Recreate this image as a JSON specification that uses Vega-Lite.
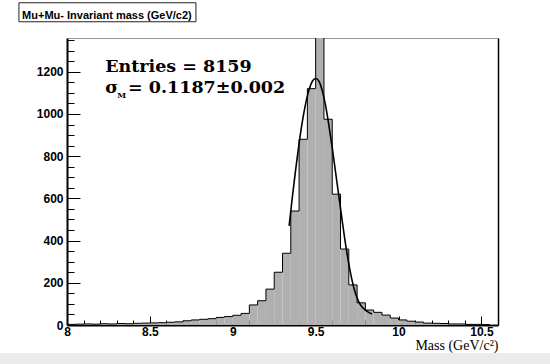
{
  "$schema": "https://vega.github.io/schema/vega-lite/v6.json",
  "width": 431,
  "height": 287,
  "autosize": "none",
  "padding": {"left": 67, "top": 38, "right": 52, "bottom": 39},
  "background": "white",
  "config": {
    "view": {"stroke": null},
    "axis": {
      "grid": false,
      "labelFont": "Liberation Sans",
      "labelFontWeight": "bold",
      "labelFontSize": 12,
      "labelColor": "black",
      "tickColor": "black",
      "domainColor": "black"
    }
  },
  "datasets": {
    "hist": [
      {"lo": 8.00, "hi": 8.05, "n": 3},
      {"lo": 8.05, "hi": 8.10, "n": 4},
      {"lo": 8.10, "hi": 8.15, "n": 5},
      {"lo": 8.15, "hi": 8.20, "n": 4},
      {"lo": 8.20, "hi": 8.25, "n": 6},
      {"lo": 8.25, "hi": 8.30, "n": 5},
      {"lo": 8.30, "hi": 8.35, "n": 7},
      {"lo": 8.35, "hi": 8.40, "n": 6},
      {"lo": 8.40, "hi": 8.45, "n": 8},
      {"lo": 8.45, "hi": 8.50, "n": 9},
      {"lo": 8.50, "hi": 8.55, "n": 10},
      {"lo": 8.55, "hi": 8.60, "n": 11},
      {"lo": 8.60, "hi": 8.65, "n": 13},
      {"lo": 8.65, "hi": 8.70, "n": 15},
      {"lo": 8.70, "hi": 8.75, "n": 20},
      {"lo": 8.75, "hi": 8.80, "n": 24},
      {"lo": 8.80, "hi": 8.85, "n": 27},
      {"lo": 8.85, "hi": 8.90, "n": 30},
      {"lo": 8.90, "hi": 8.95, "n": 36},
      {"lo": 8.95, "hi": 9.00, "n": 40},
      {"lo": 9.00, "hi": 9.05, "n": 46},
      {"lo": 9.05, "hi": 9.10, "n": 55},
      {"lo": 9.10, "hi": 9.15, "n": 95},
      {"lo": 9.15, "hi": 9.20, "n": 115},
      {"lo": 9.20, "hi": 9.25, "n": 170},
      {"lo": 9.25, "hi": 9.30, "n": 250},
      {"lo": 9.30, "hi": 9.35, "n": 340},
      {"lo": 9.35, "hi": 9.40, "n": 540},
      {"lo": 9.40, "hi": 9.45, "n": 880},
      {"lo": 9.45, "hi": 9.50, "n": 1120},
      {"lo": 9.50, "hi": 9.55, "n": 1400},
      {"lo": 9.55, "hi": 9.60, "n": 975},
      {"lo": 9.60, "hi": 9.65, "n": 620},
      {"lo": 9.65, "hi": 9.70, "n": 360},
      {"lo": 9.70, "hi": 9.75, "n": 190},
      {"lo": 9.75, "hi": 9.80, "n": 105},
      {"lo": 9.80, "hi": 9.85, "n": 71},
      {"lo": 9.85, "hi": 9.90, "n": 60},
      {"lo": 9.90, "hi": 9.95, "n": 47},
      {"lo": 9.95, "hi": 10.00, "n": 33},
      {"lo": 10.00, "hi": 10.05, "n": 24},
      {"lo": 10.05, "hi": 10.10, "n": 18},
      {"lo": 10.10, "hi": 10.15, "n": 14},
      {"lo": 10.15, "hi": 10.20, "n": 9},
      {"lo": 10.20, "hi": 10.25, "n": 8},
      {"lo": 10.25, "hi": 10.30, "n": 7},
      {"lo": 10.30, "hi": 10.35, "n": 5},
      {"lo": 10.35, "hi": 10.40, "n": 5},
      {"lo": 10.40, "hi": 10.45, "n": 3},
      {"lo": 10.45, "hi": 10.50, "n": 3},
      {"lo": 10.50, "hi": 10.55, "n": 2},
      {"lo": 10.55, "hi": 10.60, "n": 1}
    ],
    "fit": [
      {"m": 9.34, "f": 470},
      {"m": 9.36, "f": 610},
      {"m": 9.38, "f": 740},
      {"m": 9.40, "f": 860},
      {"m": 9.42, "f": 965},
      {"m": 9.44, "f": 1050},
      {"m": 9.46, "f": 1115},
      {"m": 9.48, "f": 1155},
      {"m": 9.50, "f": 1168},
      {"m": 9.52, "f": 1155},
      {"m": 9.54, "f": 1110},
      {"m": 9.56, "f": 1040},
      {"m": 9.58, "f": 945},
      {"m": 9.60, "f": 840},
      {"m": 9.62, "f": 725},
      {"m": 9.64, "f": 610},
      {"m": 9.66, "f": 495},
      {"m": 9.68, "f": 385},
      {"m": 9.70, "f": 290},
      {"m": 9.72, "f": 210},
      {"m": 9.74, "f": 150},
      {"m": 9.76, "f": 110},
      {"m": 9.78, "f": 85},
      {"m": 9.80, "f": 70},
      {"m": 9.82, "f": 60},
      {"m": 9.84, "f": 52}
    ]
  },
  "layer": [
    {
      "data": {"values": [{"band": "footer"}]},
      "mark": {"type": "rect", "color": "#ebebeb", "clip": false},
      "encoding": {
        "x": {"datum": 7.55, "type": "quantitative", "scale": {"domain": [8, 10.6], "nice": false, "zero": false}, "axis": null},
        "x2": {"datum": 10.95},
        "y": {"datum": -133, "type": "quantitative", "scale": {"domain": [0, 1360], "nice": false}, "axis": null},
        "y2": {"datum": -200}
      }
    },
    {
      "data": {"name": "hist"},
      "mark": {"type": "rect", "color": "#b0b0b0", "clip": true},
      "encoding": {
        "x": {
          "field": "lo", "type": "quantitative",
          "axis": {
            "orient": "bottom", "title": "Mass (GeV/c²)",
            "values": [8, 8.5, 9, 9.5, 10, 10.5],
            "format": "~g",
            "tickSize": -9, "tickWidth": 1,
            "domainWidth": 2, "labelPadding": 10, "labelFlush": false,
            "titleFont": "Liberation Serif", "titleFontWeight": "normal", "titleFontSize": 14,
            "titleColor": "black", "titleAnchor": "end", "titleAlign": "right",
            "titleBaseline": "alphabetic", "titleX": 431, "titleY": 24
          }
        },
        "x2": {"field": "hi"},
        "y": {
          "field": "n", "type": "quantitative",
          "axis": {
            "orient": "left", "title": null,
            "values": [0, 200, 400, 600, 800, 1000, 1200],
            "format": "d",
            "tickSize": -13, "tickWidth": 1,
            "domainWidth": 2, "labelPadding": 17
          }
        },
        "y2": {"datum": 0}
      }
    },
    {
      "data": {"name": "hist"},
      "mark": {"type": "line", "color": "black", "strokeWidth": 1, "interpolate": "step-after", "clip": true},
      "encoding": {
        "x": {
          "field": "lo", "type": "quantitative",
          "axis": {
            "orient": "bottom", "title": null, "labels": false, "domain": false,
            "values": [8.1, 8.2, 8.3, 8.4, 8.6, 8.7, 8.8, 8.9, 9.1, 9.2, 9.3, 9.4, 9.6, 9.7, 9.8, 9.9, 10.1, 10.2, 10.3, 10.4, 10.6],
            "tickSize": -5, "tickWidth": 1
          }
        },
        "y": {
          "field": "n", "type": "quantitative",
          "axis": {
            "orient": "left", "title": null, "labels": false, "domain": false,
            "values": [50, 100, 150, 250, 300, 350, 450, 500, 550, 650, 700, 750, 850, 900, 950, 1050, 1100, 1150, 1250, 1300, 1350],
            "tickSize": -7, "tickWidth": 1
          }
        }
      }
    },
    {
      "data": {"name": "fit"},
      "mark": {"type": "line", "color": "black", "strokeWidth": 1.6, "interpolate": "monotone"},
      "encoding": {
        "x": {
          "field": "m", "type": "quantitative",
          "axis": {"orient": "top", "title": null, "labels": false, "ticks": false, "domainColor": "#999999", "domainWidth": 1}
        },
        "y": {
          "field": "f", "type": "quantitative",
          "axis": {"orient": "right", "title": null, "labels": false, "ticks": false, "domainWidth": 1.5}
        }
      }
    },
    {
      "data": {"values": [{"t": "Entries = 8159"}]},
      "mark": {"type": "text", "font": "DejaVu Serif", "fontWeight": "bold", "fontSize": 17.5, "align": "left", "baseline": "alphabetic", "color": "black"},
      "encoding": {
        "x": {"datum": 8.23, "type": "quantitative", "axis": null},
        "y": {"datum": 1200, "type": "quantitative", "axis": null},
        "text": {"field": "t"}
      }
    },
    {
      "data": {"values": [{"t": "σ"}]},
      "mark": {"type": "text", "font": "DejaVu Serif", "fontWeight": "bold", "fontSize": 17.5, "align": "left", "baseline": "alphabetic", "color": "black"},
      "encoding": {
        "x": {"datum": 8.23, "type": "quantitative", "axis": null},
        "y": {"datum": 1100, "type": "quantitative", "axis": null},
        "text": {"field": "t"}
      }
    },
    {
      "data": {"values": [{"t": "M"}]},
      "mark": {"type": "text", "font": "DejaVu Serif", "fontWeight": "bold", "fontSize": 8, "align": "left", "baseline": "alphabetic", "color": "black"},
      "encoding": {
        "x": {"datum": 8.303, "type": "quantitative", "axis": null},
        "y": {"datum": 1078, "type": "quantitative", "axis": null},
        "text": {"field": "t"}
      }
    },
    {
      "data": {"values": [{"t": "= 0.1187±0.002"}]},
      "mark": {"type": "text", "font": "DejaVu Serif", "fontWeight": "bold", "fontSize": 17.5, "align": "left", "baseline": "alphabetic", "color": "black"},
      "encoding": {
        "x": {"datum": 8.368, "type": "quantitative", "axis": null},
        "y": {"datum": 1100, "type": "quantitative", "axis": null},
        "text": {"field": "t"}
      }
    },
    {
      "data": {"values": [{"box": "title"}]},
      "mark": {"type": "rect", "fill": "white", "stroke": "#222222", "strokeWidth": 1, "clip": false},
      "encoding": {
        "x": {"datum": 7.71, "type": "quantitative", "axis": null},
        "x2": {"datum": 8.778},
        "y": {"datum": 1527, "type": "quantitative", "axis": null},
        "y2": {"datum": 1437}
      }
    },
    {
      "data": {"values": [{"t": "Mu+Mu- Invariant mass (GeV/c2)"}]},
      "mark": {"type": "text", "font": "Liberation Sans", "fontWeight": "bold", "fontSize": 11, "align": "left", "baseline": "alphabetic", "color": "black", "clip": false},
      "encoding": {
        "x": {"datum": 7.729, "type": "quantitative", "axis": null},
        "y": {"datum": 1452, "type": "quantitative", "axis": null},
        "text": {"field": "t"}
      }
    }
  ],
  "resolve": {"axis": {"x": "independent", "y": "independent"}}
}
